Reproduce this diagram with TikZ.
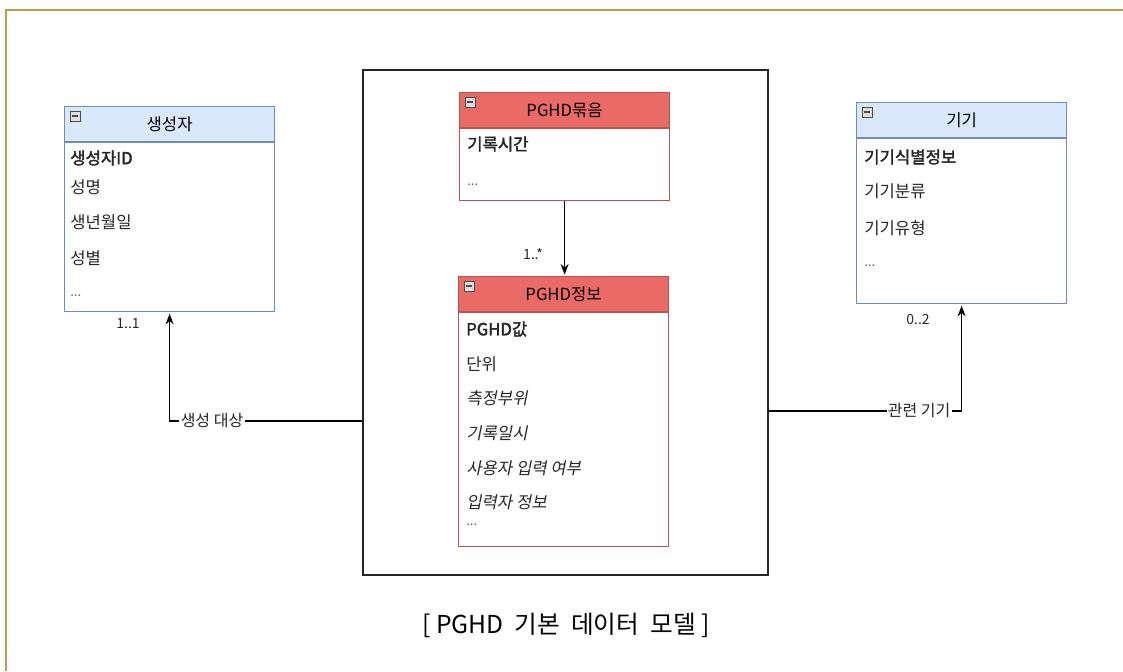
\documentclass[tikz,border=0pt]{standalone}
\usepackage{fontspec}
\setmainfont{Noto Sans CJK KR}[AutoFakeBold=2,AutoFakeSlant=0.2]
\usetikzlibrary{arrows.meta,positioning,calc}
\definecolor{frame_gold}{RGB}{196,152,78}
\definecolor{head_blue}{RGB}{218,232,252}
\definecolor{line_blue}{RGB}{108,142,191}
\definecolor{head_red}{RGB}{234,107,102}
\definecolor{line_red}{RGB}{184,84,80}
\newcommand{\bodysize}{\fontsize{12.5}{14}\selectfont}
\tikzset{
  classhead/.style={draw, line width=0.9pt, minimum width=157.5pt, minimum height=26.25pt,
    inner sep=0pt, anchor=north west},
  bluehead/.style={classhead, draw=line_blue, fill=head_blue},
  redhead/.style={classhead, draw=line_red, fill=head_red},
  classbody/.style={draw, line width=0.9pt, minimum width=157.5pt, inner sep=0pt,
    below=0pt of #1},
  attr/.style={anchor=west, inner sep=0pt, text=black!85, font=\bodysize},
  keyattr/.style={attr, font=\bodysize\bfseries},
  slantattr/.style={attr, font=\bodysize\itshape},
  moreattr/.style={attr, text=black!60, font=\fontsize{10}{12}\selectfont},
  mult/.style={inner sep=0pt, font=\fontsize{10.5}{12}\selectfont, text=black!85},
  rolelabel/.style={fill=white, inner sep=1pt, text=black!85, font=\fontsize{12}{14}\selectfont},
  minbox/.style={draw=gray!60!black, fill=gray!25, minimum size=7.5pt, inner sep=0pt,
    path picture={\draw[line width=0.9pt] ([xshift=1.6pt]path picture bounding box.west)
      -- ([xshift=-1.6pt]path picture bounding box.east);}},
  assoc/.style={line width=0.8pt, -{Stealth[length=8pt,width=6pt]}, shorten >=1pt}
}
\begin{document}
\begin{tikzpicture}[x=0.75pt, y=-0.75pt, font=\bodysize]
  \useasboundingbox (0,0) rectangle (1123,671);
  % page frame
  \draw[frame_gold, line width=2.2pt] (6,671) -- (6,10) -- (1123,10);

  % container
  \node[draw=black!85, line width=1pt, minimum width=303.75pt, minimum height=378.75pt,
    inner sep=0pt] (model) at (565.5,322.5) {};

  % 생성자
  \node[bluehead] (makerhead) at (64,106) {생성자};
  \node[classbody=makerhead, draw=line_blue, minimum height=126.75pt] (makerbody) {};
  \node[minbox] (makermin) at ($(makerhead.north west)+(11,10)$) {};
  \node[keyattr] (makerid) at (70,158) {생성자ID};
  \node[attr] (makername) at (70,187) {성명};
  \node[attr] (makerbirth) at (70,222) {생년월일};
  \node[attr] (makersex) at (70,258) {성별};
  \node[moreattr] (makermore) at (70,296) {...};

  % PGHD묶음
  \node[redhead] (bundlehead) at (459,92) {PGHD묶음};
  \node[classbody=bundlehead, draw=line_red, minimum height=54pt] (bundlebody) {};
  \node[minbox] (bundlemin) at ($(bundlehead.north west)+(11,10)$) {};
  \node[keyattr] (bundletime) at (467,144) {기록시간};
  \node[moreattr] (bundlemore) at (467,185) {...};

  % PGHD정보
  \node[redhead] (infohead) at (458,276) {PGHD정보};
  \node[classbody=infohead, draw=line_red, minimum height=175.5pt] (infobody) {};
  \node[minbox] (infomin) at ($(infohead.north west)+(11,10)$) {};
  \node[keyattr] (infovalue) at (466,329) {PGHD값};
  \node[attr] (infounit) at (466,364) {단위};
  \node[slantattr] (infosite) at (466,398) {측정부위};
  \node[slantattr] (infodate) at (466,433) {기록일시};
  \node[slantattr] (infouser) at (466,468) {사용자 입력 여부};
  \node[slantattr] (infoinput) at (466,502) {입력자 정보};
  \node[moreattr] (infomore) at (466,525) {...};

  % 기기
  \node[bluehead] (devhead) at (856,102) {기기};
  \node[classbody=devhead, draw=line_blue, minimum height=123.75pt] (devbody) {};
  \node[minbox] (devmin) at ($(devhead.north west)+(11,10)$) {};
  \node[keyattr] (devid) at (864,157) {기기식별정보};
  \node[attr] (devclass) at (864,191) {기기분류};
  \node[attr] (devtype) at (864,228) {기기유형};
  \node[moreattr] (devmore) at (864,266) {...};

  % connectors
  \draw[assoc] (bundlebody.south) -- (bundlebody.south |- infohead.north);
  \node[mult] (bundlemult) at (533,254) {1..*};
  \draw[assoc] ($(model.west)+(0,98.5)$) -| (makerbody.south)
    node[rolelabel, pos=0.39] (makerrole) {생성 대상};
  \node[mult] (makermult) at (128,324) {1..1};
  \draw[assoc] ($(model.east)+(0,88.5)$) -| (devbody.south)
    node[rolelabel, pos=0.39] (devrole) {관련 기기};
  \node[mult] (devmult) at (918,320) {0..2};

  % caption
  \node[font=\fontsize{18.5}{21}\selectfont] (caption) at (566,625) {[ PGHD\ \ 기본\ \ 데이터\ \ 모델 ]};
\end{tikzpicture}
\end{document}
